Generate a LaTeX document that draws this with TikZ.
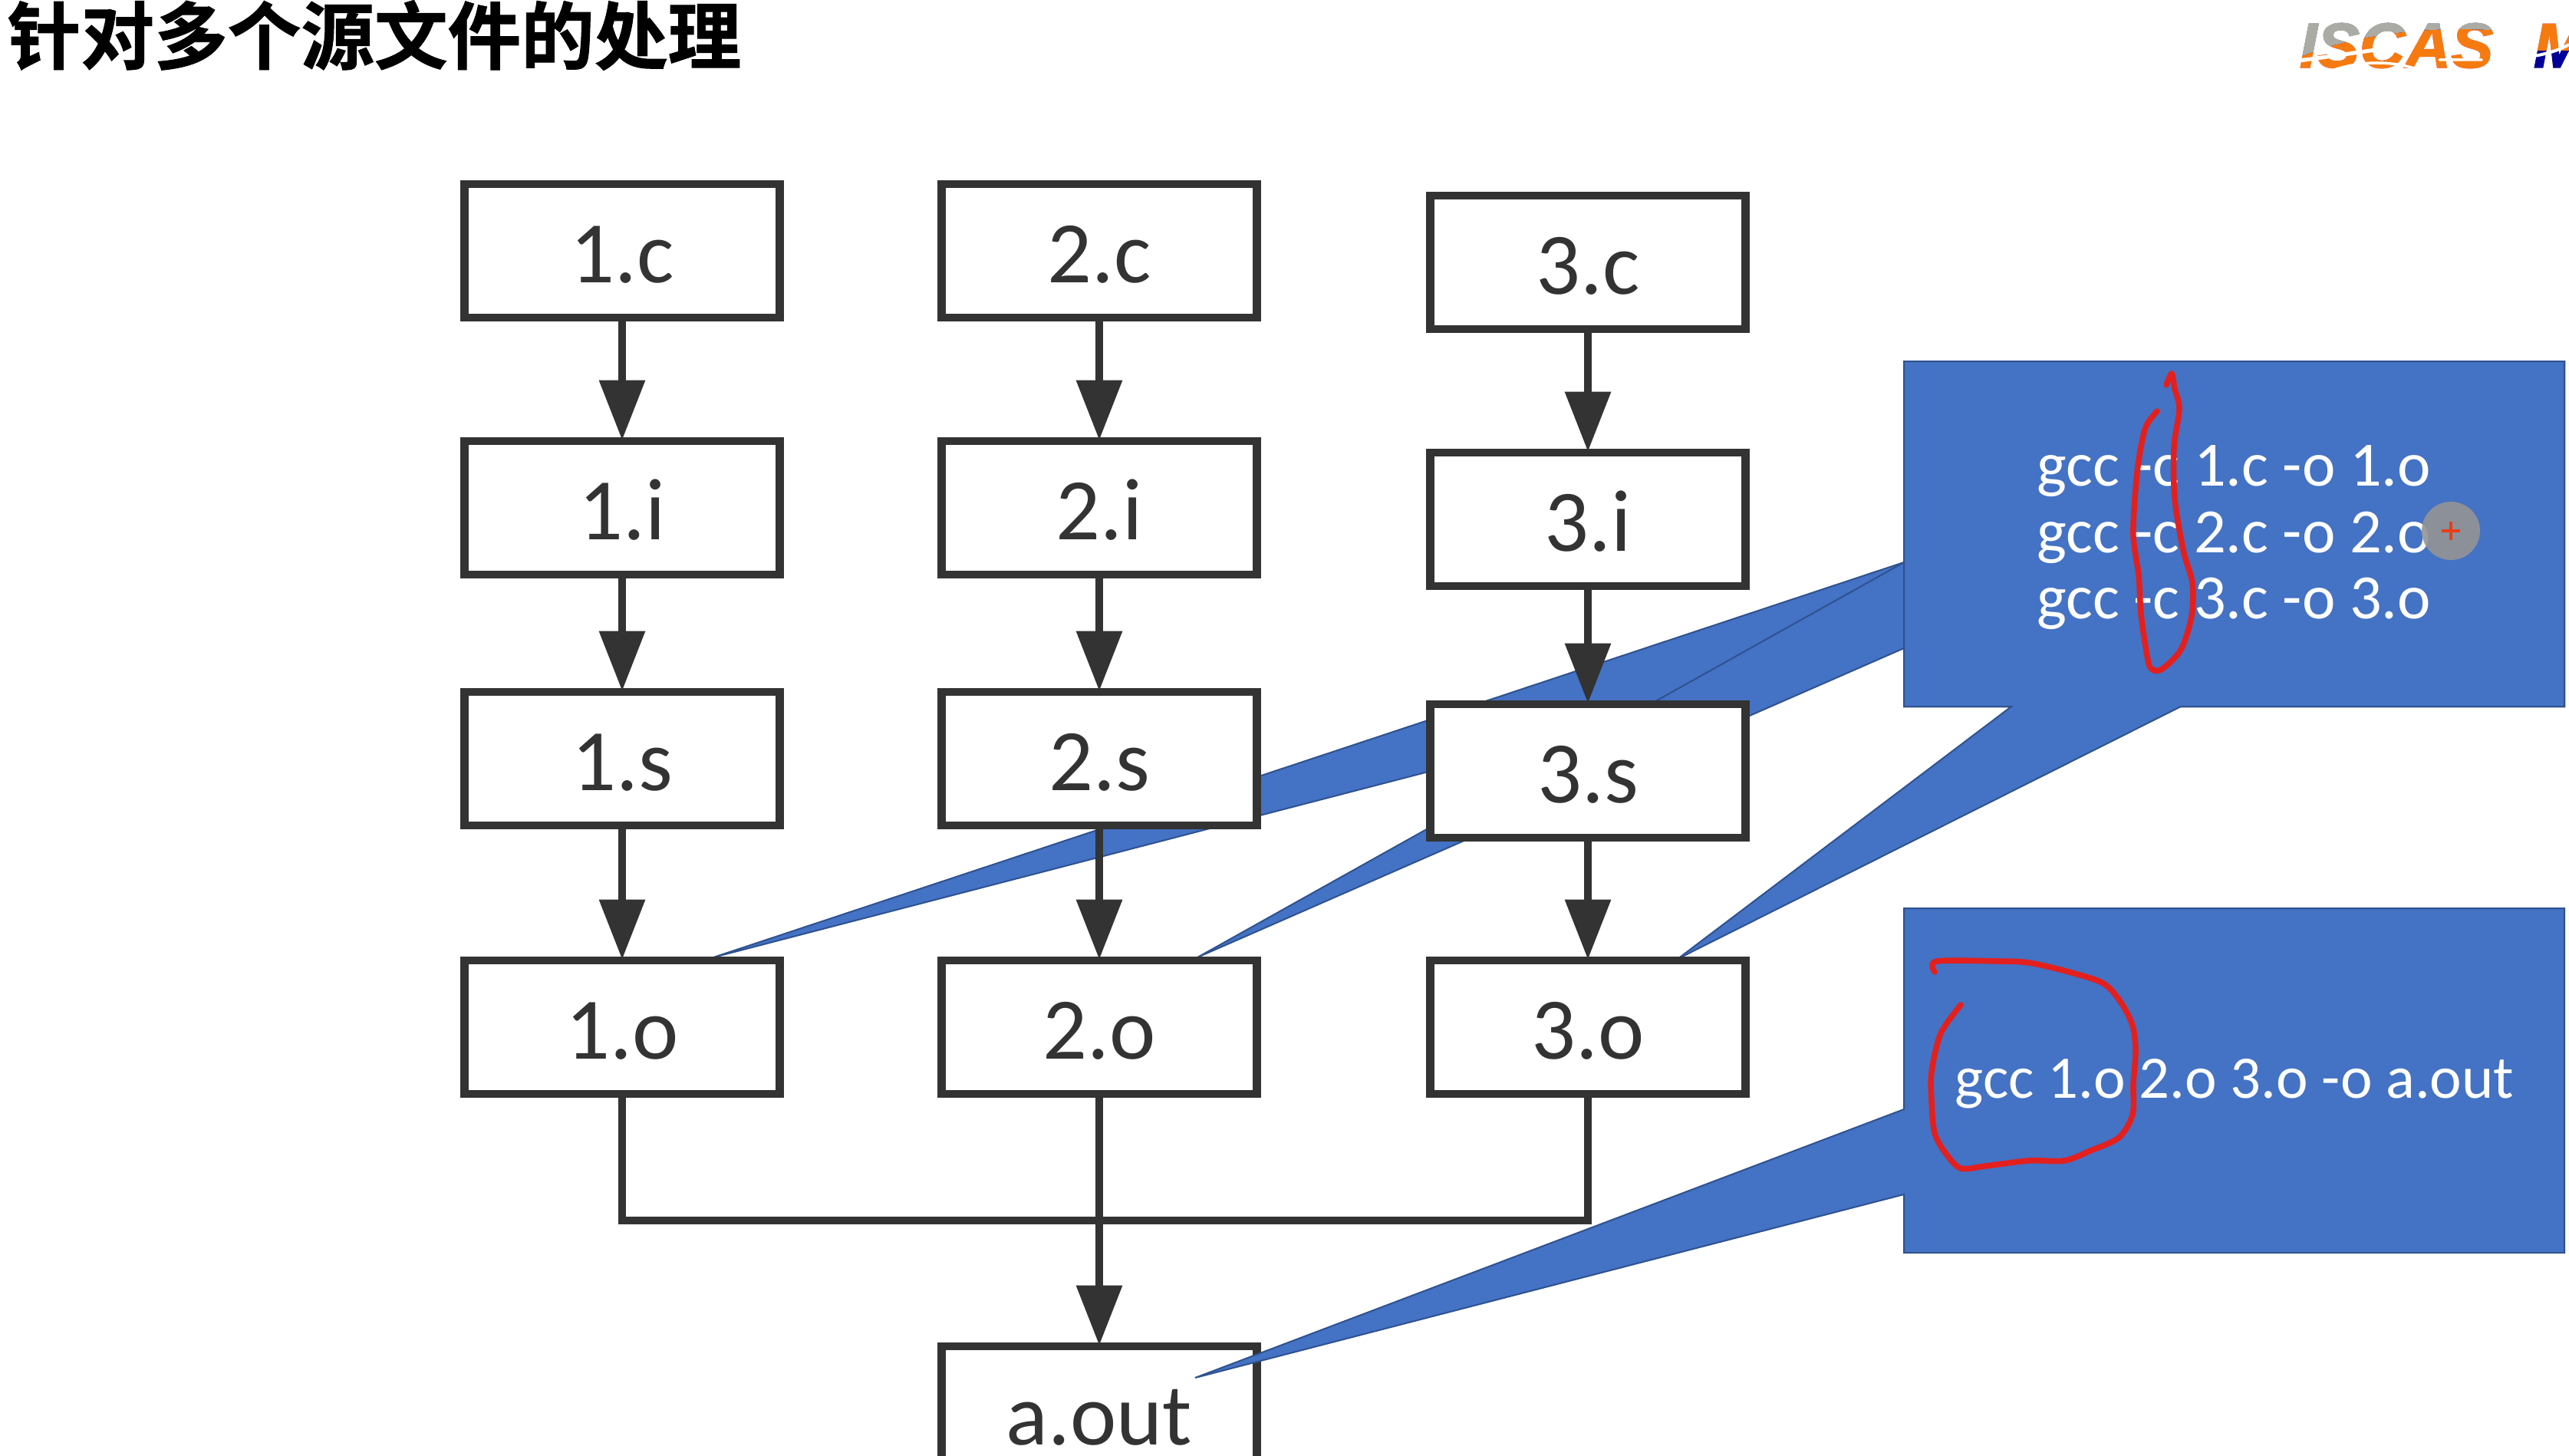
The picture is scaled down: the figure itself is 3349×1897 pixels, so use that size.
\documentclass[tikz,border=0pt]{standalone}
\usepackage{fontspec}
\setmainfont{Carlito}
\newfontfamily\cjkfont[FakeBold=1]{Noto Sans CJK SC Bold}
\newfontfamily\logofont[FakeBold=1.5]{Liberation Sans Bold Italic}
\usetikzlibrary{positioning}
\usetikzlibrary{calc}
\usetikzlibrary{arrows.meta}
\definecolor{inkdark}{HTML}{333333}
\definecolor{calloutblue}{HTML}{4472C4}
\definecolor{calloutedge}{HTML}{2F528F}
\definecolor{penred}{HTML}{E3201E}
\definecolor{logoorange}{HTML}{F57B10}
\definecolor{logogray}{HTML}{ABABA6}
\tikzset{
filebox/.style={draw=inkdark,fill=white,line width=.105cm,minimum width=4.11cm,minimum height=1.74cm,inner sep=0pt,text=inkdark,font=\fontsize{32.5}{32.5}\selectfont,text height=.83cm,text depth=0pt},
flowline/.style={draw=inkdark,line width=.095cm},
flowarrow/.style={flowline,shorten >=-.04cm,-{Triangle[length=.78cm,width=.58cm]}},
callout/.style={fill=calloutblue,draw=calloutedge,line width=.02cm},
cmdtext/.style={text=white,align=center,inner sep=0pt},
penstroke/.style={draw=penred,line width=.075cm,line cap=round,line join=round},
logotext/.style={font=\logofont\fontsize{23.5}{23.5}\selectfont,inner sep=0pt,anchor=base west,text=black}
}
\begin{document}
\begin{tikzpicture}[x=0.01cm,y=-0.01cm]
\clip (0,0) rectangle (3349,1897);
\fill[white] (0,0) rectangle (3349,1897);
\coordinate (gccNW) at (2482,471);
\coordinate (gccNE) at (3343,471);
\coordinate (gccSE) at (3343,921);
\coordinate (gccSW) at (2482,921);
\foreach \tip in {(930,1248),(1561,1248)} {
\draw[callout] (gccNW)--(2482,733)--\tip--(2482,845)--(gccSW)--(gccSE)--(gccNE)--cycle;}
\draw[callout] (gccNW)--(gccSW)--(2622,921)--(2187,1250)--(2843,921)--(gccSE)--(gccNE)--cycle;
\foreach \k/\x in {1/811,2/1433} {
\node[filebox] (c\k) at (\x,327) {\k.c};
\node[filebox] (i\k) at (\x,662) {\k.i};
\node[filebox] (s\k) at (\x,989) {\k.s};
\node[filebox] (o\k) at (\x,1339) {\k.o};}
\node[filebox] (c3) at (2070,342) {3.c};
\node[filebox] (i3) at (2070,677) {3.i};
\node[filebox] (s3) at (2070,1005) {3.s};
\node[filebox] (o3) at (2070,1339) {3.o};
\node[filebox] (aout) at (1433,1842) {a.out};
\foreach \k in {1,2,3} {
\draw[flowarrow] (c\k)--(i\k);
\draw[flowarrow] (i\k)--(s\k);
\draw[flowarrow] (s\k)--(o\k);}
\coordinate (bus) at (1433,1591);
\draw[flowline] (o1.south)--(o1 |- bus)--(o3 |- bus)--(o3.south);
\draw[flowarrow] (o2)--(aout);
\draw[callout] (2482,1184)--(2482,1446)--(1558,1796)--(2482,1557)--(2482,1633)--(3343,1633)--(3343,1184)--cycle;
\node[cmdtext,font=\fontsize{23.4}{24.6}\selectfont] (compile) at (2912,701) {gcc -c 1.c -o 1.o\\gcc -c 2.c -o 2.o\\gcc -c 3.c -o 3.o};
\node[cmdtext,font=\fontsize{22.4}{24}\selectfont] (link) at (2913,1413) {gcc 1.o 2.o 3.o -o a.out};
\draw[penstroke] plot[smooth,tension=.5] coordinates {(2812,536)(2797,557)(2788,600)(2783,650)(2781,700)(2788,750)(2791,800)(2797,843)(2803,870)(2817,873)(2843,847)(2857,803)(2858,760)(2846,717)(2835,650)(2834,583)(2841,533)(2835,507)(2831,487)(2824,502)};
\draw[penstroke] plot[smooth,tension=.5] coordinates {(2522,1267)(2525,1253)(2605,1253)(2645,1255)(2697,1267)(2742,1282)(2765,1307)(2780,1337)(2784,1370)(2781,1413)(2780,1453)(2762,1483)(2725,1500)(2691,1513)(2645,1513)(2588,1520)(2556,1523)(2536,1503)(2522,1477)(2518,1437)(2518,1397)(2530,1347)(2556,1310)};
\fill[black!42!white,opacity=.9] (3195,692) circle[radius=.38cm];
\draw[penred!70!orange,line width=.035cm] (3183,692)--(3207,692) (3195,680)--(3195,704);
\node[font=\cjkfont\fontsize{27.2}{27.2}\selectfont,inner sep=0pt,anchor=west] (title) at (9,46) {针对多个源文件的处理};
\node[logotext] (logoiscas) at (2997,88) {ISCAS};
\node[logotext] (logom) at (3302,88) {M};
\begin{scope}[blend mode=lighten]
\fill[logogray] (2990,15)--(3260,15)--(3260,40) .. controls (3150,32) and (3050,50) .. (2990,78)--cycle;
\fill[logoorange] (3260,40) .. controls (3150,32) and (3050,50) .. (2990,78)--(2990,100)--(3260,100)--cycle;
\fill[logoorange] (3295,15) rectangle (3349,66);
\fill[blue!60!black] (3295,66) rectangle (3349,100);
\end{scope}
\draw[white,line width=.05cm,line cap=round] (2990,80) .. controls (3050,72) and (3090,66) .. (3130,60);
\draw[white,line width=.035cm,line cap=round] (3040,92) .. controls (3080,78) and (3120,80) .. (3150,90) (3180,78)--(3235,78);
\draw[white,line width=.04cm] (3295,74) .. controls (3315,72) and (3335,66) .. (3349,58);
\end{tikzpicture}
\end{document}
